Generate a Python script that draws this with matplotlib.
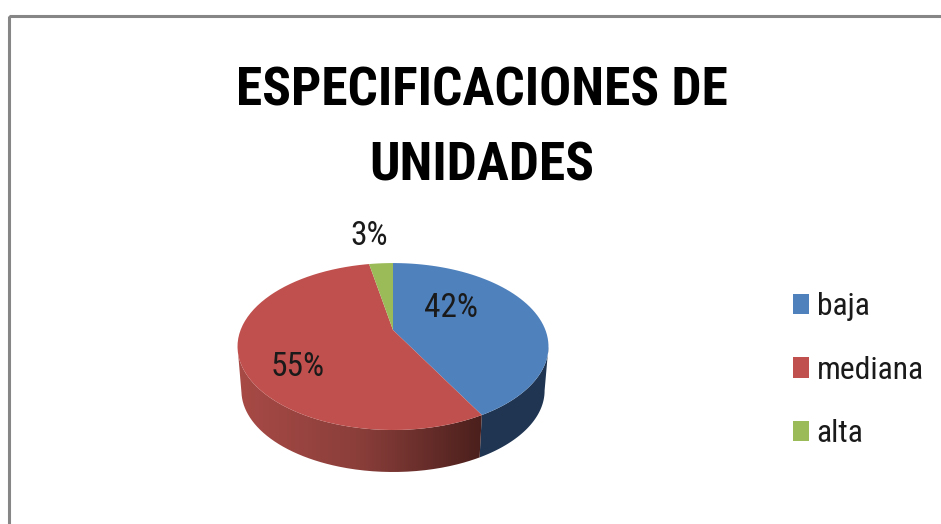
import numpy as np
import matplotlib
matplotlib.use('Agg')
import matplotlib.pyplot as plt
from matplotlib.colors import LinearSegmentedColormap
from matplotlib.patches import Rectangle
from matplotlib.path import Path
from matplotlib.transforms import Affine2D, Transform

labels = ['baja', 'mediana', 'alta']
values = [42, 55, 3]
pct_labels = ['42%', '55%', '3%']
colors = ['#4F81BD', '#C0504D', '#9BBB59']
title_lines = ['ESPECIFICACIONES DE', 'UNIDADES']

font = ['Roboto Condensed', 'Lato']

# centro del pastel y proyeccion en pixeles
CX, CY = 393.0, 330.0
SX, SY, K = 152.4, 80.2, 0.198


def project(x, y, f=1.0, dy=0.0):
    w = 1 + K * y
    return CX + f * SX * x / w, CY + dy - f * SY * y / w


class Persp(Transform):
    input_dims = output_dims = 2

    def transform_non_affine(self, xy):
        xy = np.asarray(xy)
        px, py = project(xy[:, 0], xy[:, 1])
        return np.column_stack([px, py])

    def transform_path_non_affine(self, path):
        # aplanar las curvas antes de proyectar
        polys = path.transformed(Affine2D().scale(500)).to_polygons()
        v = np.vstack(polys) / 500
        return Path(self.transform_non_affine(v))


def arc(t1, t2):
    t = np.radians(np.linspace(t1, t2, 200))
    return np.sin(t), np.cos(t)


def wall(t1, t2):
    x, y = arc(t1, t2)
    xa, ya = project(x, y)
    xb, yb = project(x, y, 0.975, 44.5)
    return np.r_[xa, xb[::-1]], np.r_[ya, yb[::-1]]


fig = plt.figure(figsize=(9.41, 5.24), dpi=100)
ax = fig.add_axes([0, 0, 1, 1])

wedges, _ = ax.pie(values, colors=colors, startangle=90, counterclock=False)
persp = Persp()
for w in wedges:
    w.set_transform(persp + ax.transData)
    w.set_zorder(3)
    w.set_linewidth(0)

# pared lateral
limit = np.degrees(np.arccos(-K))
cut = values[0] / sum(values) * 360
xb, yb = wall(limit, cut)
ax.fill(xb, yb, color='#1F3552', lw=0, zorder=2)
xr, yr = wall(cut, 360 - limit)
red_side = LinearSegmentedColormap.from_list('side', ['#A84A46', '#8A3E3A', '#4A1F1C'])
im = ax.imshow(np.linspace(0, 1, 256)[None, :], cmap=red_side, aspect='auto',
               extent=(xr.min(), xr.max(), yr.max(), yr.min()), zorder=2)
im.set_clip_path(Path(np.column_stack([xr, yr])), ax.transData)

# marco gris, sin borde derecho ni inferior visibles
ax.add_patch(Rectangle((9.5, 15.5), 1000, 1000, fill=False, edgecolor='#868686', lw=2.2))

ax.set_aspect('auto')
ax.set_xlim(0, 941)
ax.set_ylim(524, 0)
ax.axis('off')

for line, y in zip(title_lines, [91, 166]):
    ax.text(482, y, line, ha='center', va='center', fontsize=38.5, fontweight='bold',
            family=font, color='black')

for txt, (x, y) in zip(pct_labels, [(451, 308), (298, 367), (369, 236)]):
    ax.text(x, y, txt, ha='center', va='center', fontsize=24, family=font, color='#1a1a1a', zorder=4)

leg = ax.legend(wedges, labels, loc='upper left', bbox_to_anchor=(793, 292),
                bbox_transform=ax.transData, frameon=False,
                prop={'family': font, 'size': 22.8}, labelcolor='#1a1a1a',
                handlelength=0.5, handleheight=0.625, handletextpad=0.25, labelspacing=1.09,
                borderpad=0, borderaxespad=0)
fig.savefig('out.png', dpi=100, facecolor='white')
